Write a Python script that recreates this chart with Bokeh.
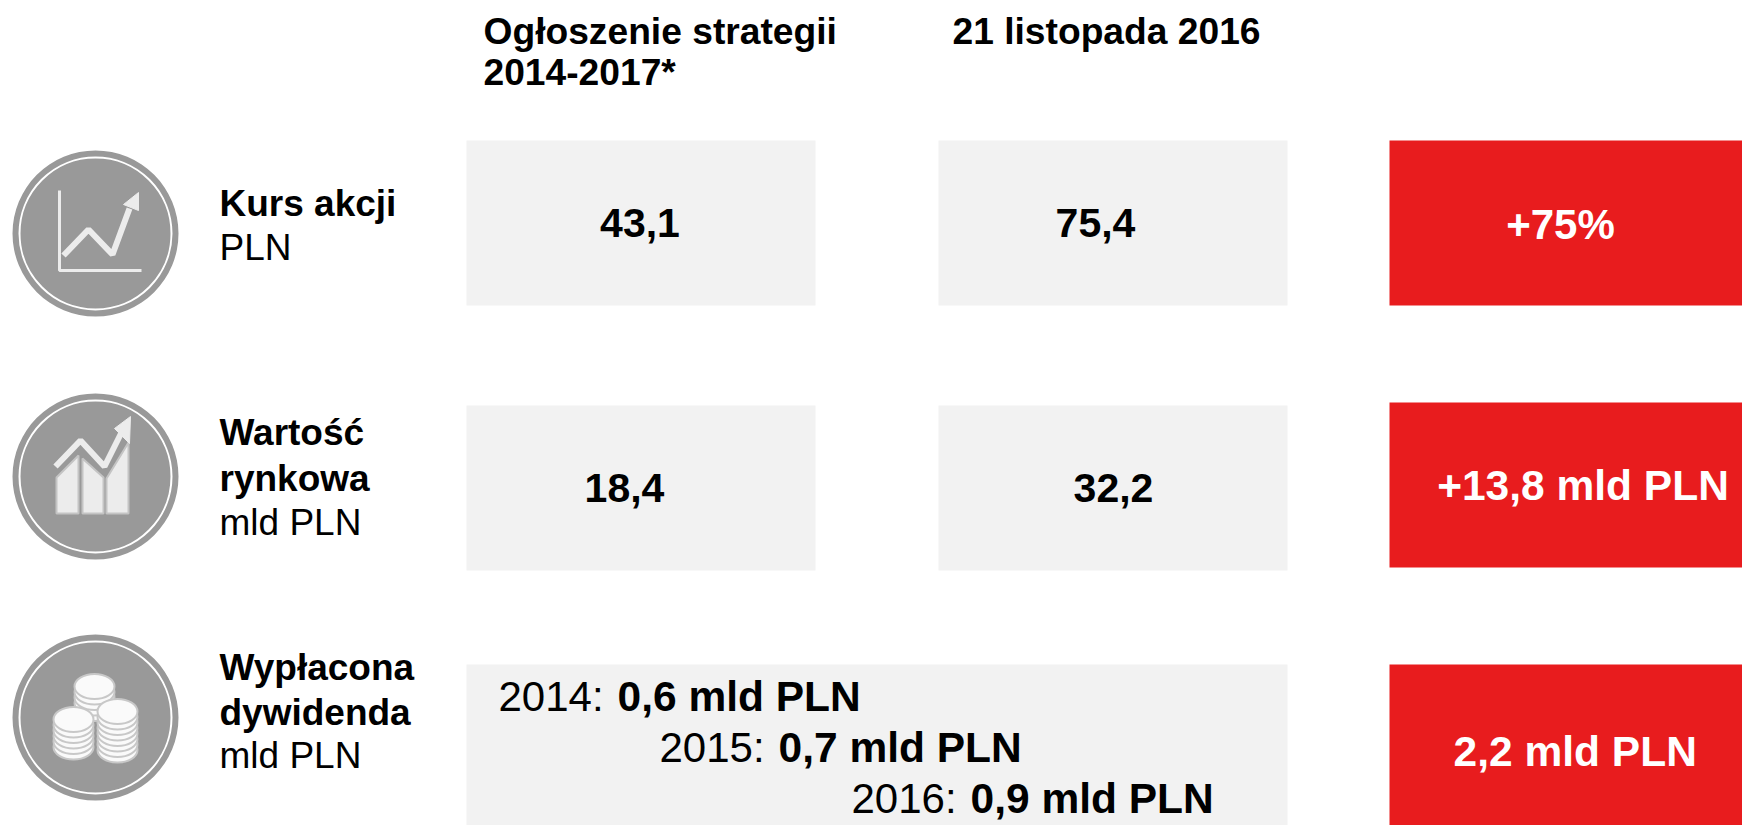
from bokeh.plotting import figure
from bokeh.models import Range1d
from bokeh.core.properties import value
from bokeh.embed import file_html
from bokeh.resources import INLINE

# ---- content ----
col_heads = ["Ogłoszenie strategii", "2014-2017*", "21 listopada 2016"]
row_titles = [["Kurs akcji"], ["Wartość", "rynkowa"], ["Wypłacona", "dywidenda"]]
row_units = ["PLN", "mld PLN", "mld PLN"]
start_vals = ["43,1", "18,4"]
end_vals = ["75,4", "32,2"]
changes = ["+75%", "+13,8 mld PLN", "2,2 mld PLN"]
div_years = ["2014:", "2015:", "2016:"]
div_vals = ["0,6 mld PLN", "0,7 mld PLN", "0,9 mld PLN"]

FONT = value("Liberation Sans")
GREY = "#999999"
LIGHT = "#ececec"

p = figure(width=1742, height=825, output_backend="svg", toolbar_location=None,
           x_range=Range1d(0, 1742), y_range=Range1d(825, 0), min_border=0,
           background_fill_color="white", border_fill_color="white")
p.axis.visible = False
p.grid.visible = False
p.outline_line_color = None


def txt(x, y, s, size=37, bold=False, color="black", align="left"):
    p.text([x], [y - 0.37 * size], text=[s], text_font=FONT, text_font_size=f"{size}px",
           text_font_style="bold" if bold else "normal", text_color=color,
           text_align=align, text_baseline="alphabetic")


# boxes
p.quad(left=[466, 938, 466, 938], right=[815, 1287, 815, 1287],
       top=[140, 140, 405, 405], bottom=[305, 305, 570, 570],
       fill_color="#f2f2f2", line_color=None)
p.quad(left=[466], right=[1287], top=[664], bottom=[830], fill_color="#f2f2f2", line_color=None)
p.quad(left=[1389] * 3, right=[1750] * 3, top=[140, 402, 664], bottom=[305, 567, 830],
       fill_color="#e81c1e", line_color=None)

# headers
txt(483, 44.7, col_heads[0], 37.2, True)
txt(483, 85, col_heads[1], 37.2, True)
txt(952, 44.7, col_heads[2], 37.2, True)

# row labels
txt(219, 216.5, row_titles[0][0], 37, True)
txt(219, 260.5, row_units[0], 37)
txt(219, 446, row_titles[1][0], 37, True)
txt(219, 491.5, row_titles[1][1], 37, True)
txt(219, 536, row_units[1], 37)
txt(219, 680.5, row_titles[2][0], 37, True)
txt(219, 725.5, row_titles[2][1], 37, True)
txt(219, 768.5, row_units[2], 37)

# values
txt(639.5, 238, start_vals[0], 41, True, align="center")
txt(1095, 238, end_vals[0], 41, True, align="center")
txt(624, 503, start_vals[1], 41, True, align="center")
txt(1113, 503, end_vals[1], 41, True, align="center")
txt(1560, 240, changes[0], 42, True, "white", "center")
txt(1582.5, 501, changes[1], 42.5, True, "white", "center")
txt(1574.7, 767, changes[2], 42.5, True, "white", "center")

# dividends
for x, y, yr, v in zip([498, 659, 851], [712, 763, 814], div_years, div_vals):
    txt(x, y, yr, 42)
    txt(x + 119, y, v, 42.5, True)

# icons
for cx, cy in [(95, 233), (95, 476), (95, 717)]:
    p.circle([cx], [cy], radius=83, fill_color=GREY, line_color=None)
    p.circle([cx], [cy], radius=76, fill_color=None, line_color="white", line_width=2)

# icon 1
p.line([59, 59, 141], [190, 270, 270], line_color=LIGHT, line_width=3)
p.line([63, 88, 112, 129], [255, 229, 254, 208], line_color=LIGHT, line_width=6)
p.patch([123, 138, 138], [204, 192, 210], fill_color=LIGHT, line_color=LIGHT)

# icon 2
for xs, ys in [([56, 78, 78, 56], [477, 455, 513, 513]),
               ([82, 103, 103, 82], [458, 477, 513, 513]),
               ([106, 128, 128, 106], [478, 442, 513, 513])]:
    p.patch(xs, ys, fill_color=LIGHT, line_color="#c4c4c4", line_width=2)
p.line([55, 80, 104, 122], [466, 440, 466, 430], line_color=LIGHT, line_width=6)
p.patch([114, 130, 129], [428, 416, 443], fill_color=LIGHT, line_color=LIGHT)


# icon 3 coins
def coin(cx, top, n, rx=20, ry=12.5, gap=5.5):
    for i in range(n, -1, -1):
        y = top + i * gap
        p.ellipse([cx], [y], width=2 * rx, height=2 * ry,
                  fill_color="#fafafa", line_color="#c8c8c8", line_width=2)


coin(94, 686, 4)
coin(117, 711, 7)
coin(73, 719, 5)

open("out.html", "w").write(file_html(p, INLINE))
